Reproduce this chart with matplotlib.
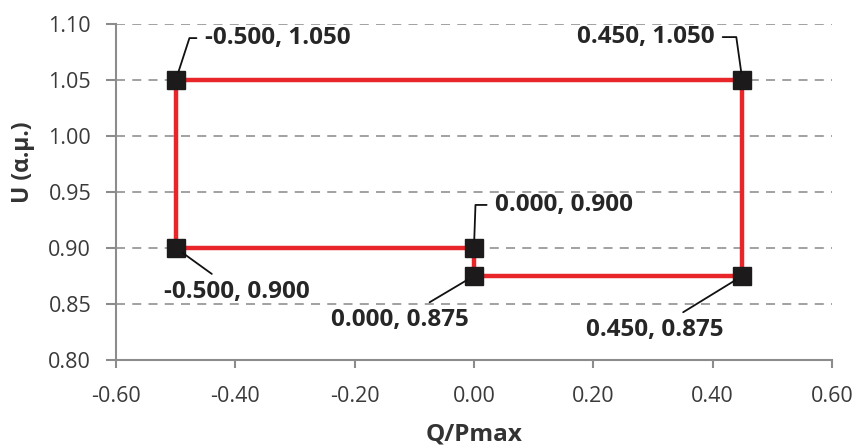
import matplotlib.pyplot as plt

plt.rcParams['font.family'] = ['Open Sans', 'DejaVu Sans']

# polygon path of the operating region
q_vals = [-0.5, 0.45, 0.45, 0.0, 0.0, -0.5, -0.5]
u_vals = [1.05, 1.05, 0.875, 0.875, 0.9, 0.9, 1.05]

# labelled corner points and their text
pt_q = [-0.5, 0.45, 0.0, -0.5, 0.0, 0.45]
pt_u = [1.05, 1.05, 0.9, 0.9, 0.875, 0.875]
pt_text = ["-0.500, 1.050", "0.450, 1.050", "0.000, 0.900",
           "-0.500, 0.900", "0.000, 0.875", "0.450, 0.875"]

x_ticks = [-0.6, -0.4, -0.2, 0.0, 0.2, 0.4, 0.6]
y_ticks = [0.80, 0.85, 0.90, 0.95, 1.00, 1.05, 1.10]

fig = plt.figure(figsize=(8.54, 4.47), dpi=100)
ax = fig.add_axes([0.136, 0.195, 0.838, 0.751])

ax.plot(q_vals, u_vals, color='#e8262a', lw=3.2, zorder=3, solid_joinstyle='miter')
ax.plot(pt_q, pt_u, ls='none', marker='s', ms=13.5, color='#1c1a1a', zorder=4)

ax.set_xlim(-0.6, 0.6)
ax.set_ylim(0.8, 1.1)
ax.set_xticks(x_ticks)
ax.set_yticks(y_ticks)
ax.set_xticklabels([f"{v:.2f}" for v in x_ticks])
ax.set_yticklabels([f"{v:.2f}" for v in y_ticks])

for s in ['top', 'right']:
    ax.spines[s].set_visible(False)
for s in ['left', 'bottom']:
    ax.spines[s].set_color('#8c8c8c')
    ax.spines[s].set_linewidth(1.5)
ax.tick_params(axis='both', colors='#8c8c8c', width=1.5, labelsize=15.5,
               labelcolor='#3a3a3a')
ax.tick_params(axis='y', length=7, pad=11)
ax.tick_params(axis='x', length=6, pad=13)

ax.yaxis.grid(True, color='#9a9a9a', lw=1.3, ls=(0, (5, 4)))
ax.set_axisbelow(True)

ax.set_xlabel("Q/Pmax", fontsize=17.5, fontweight='bold', color='#333333', labelpad=11)
ax.set_ylabel("U (α.μ.)", fontsize=16.5, fontweight='bold', color='#333333')
ax.yaxis.set_label_coords(-0.113, 0.59)

# annotation offsets (pixels), alignment, connector style
offsets = [(29, 42), (-28, 43), (21, 43), (61, -44), (-74, -44), (-88, -54)]
aligns = ['left', 'right', 'left', 'center', 'center', 'center']
conns = ['angle,angleA=0,angleB=72,rad=0', 'angle,angleA=0,angleB=98,rad=0',
         'angle,angleA=0,angleB=88,rad=0', 'arc3', 'arc3', 'arc3']

for q, u, t, off, ha, cs in zip(pt_q, pt_u, pt_text, offsets, aligns, conns):
    ax.annotate(t, (q, u), xytext=off, textcoords='offset pixels',
                ha=ha, va='center', fontsize=17.5, fontweight='bold', color='#262626',
                arrowprops=dict(arrowstyle='-', color='#111111', lw=1.3,
                                connectionstyle=cs, shrinkA=4, shrinkB=6),
                zorder=5)

fig.savefig("out.png", dpi=100)
